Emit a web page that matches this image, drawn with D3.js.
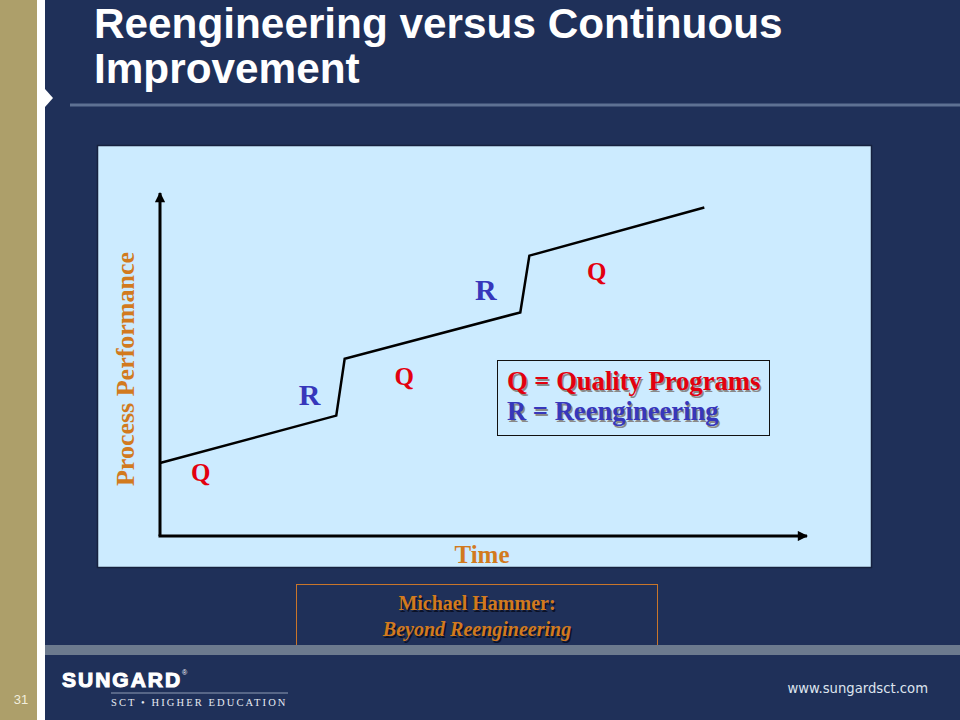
<!DOCTYPE html>
<html>
<head>
<meta charset="utf-8">
<script src="https://cdn.jsdelivr.net/npm/d3@7/dist/d3.min.js"></script>
<style>
  html, body { margin: 0; padding: 0; background: #1F3059; }
  svg { display: block; }
</style>
</head>
<body>
<div id="chart"></div>
<script>
// ---- Data ----
const titleLines = ["Reengineering versus Continuous", "Improvement"];
const timePoints = [0, 27.2, 28.5, 55.6, 57, 84];          // Time (relative)
const performance = [21.2, 35, 51.5, 65, 81.5, 95.5];      // Process Performance (relative)
const labelTexts = ["Q", "R", "Q", "R", "Q"];
const labelKinds = ["quality", "reengineering", "quality", "reengineering", "quality"];
const labelTime = [6.3, 23.1, 37.7, 50.3, 67.4];
const labelPerf = [16, 38.1, 43.9, 68.6, 74.4];
const legendLines = ["Q = Quality Programs", "R = Reengineering"];
const legendKinds = ["quality", "reengineering"];
const xAxisTitle = "Time";
const yAxisTitle = "Process Performance";
const sourceLines = ["Michael Hammer:", "Beyond Reengineering"];
const slideNumber = "31";
const footerUrl = "www.sungardsct.com";

// ---- Styles ----
const W = 960, H = 720;
const navy = "#1F3059";
const gold = "#AD9F6A";
const panelFill = "#CCEBFF";
const orange = "#D27A1E";
const kindColor = { quality: "#E3000F", reengineering: "#3737BB" };

const svg = d3.select("#chart").append("svg").attr("width", W).attr("height", H);

// background
svg.append("rect").attr("width", W).attr("height", H).attr("fill", navy);
svg.append("rect").attr("x", 0).attr("y", 0).attr("width", 37).attr("height", H).attr("fill", gold);
svg.append("rect").attr("x", 37).attr("y", 0).attr("width", 8).attr("height", H).attr("fill", "#FFFFFF");
svg.append("path").attr("d", "M45,89 L53,98 L45,107 Z").attr("fill", "#FFFFFF");

// title
const title = svg.append("text").attr("font-family", "Liberation Sans, Arial, sans-serif")
  .attr("font-weight", "bold").attr("font-size", 42.3).attr("fill", "#FFFFFF");
titleLines.forEach((t, i) => title.append("tspan").attr("x", 94).attr("y", 38 + i * 45).text(t));
svg.append("rect").attr("x", 70).attr("y", 103.5).attr("width", W - 70).attr("height", 3).attr("fill", "#5E7193");

// chart panel
svg.append("rect").attr("x", 97.5).attr("y", 145.5).attr("width", 774).attr("height", 422)
  .attr("fill", panelFill).attr("stroke", "#16213F").attr("stroke-width", 1.5);

// scales
const x = d3.scaleLinear().domain([0, 100]).range([160, 808]);
const y = d3.scaleLinear().domain([0, 100]).range([536, 192]);

const defs = svg.append("defs");
defs.append("marker").attr("id", "arrow").attr("viewBox", "0 0 10 10").attr("refX", 9).attr("refY", 5)
  .attr("markerWidth", 4).attr("markerHeight", 3.4).attr("orient", "auto")
  .attr("markerUnits", "strokeWidth")
  .append("path").attr("d", "M0,0 L10,5 L0,10 Z").attr("fill", "#000");

// axes (drawn through the scales)
svg.append("line").attr("x1", x(0)).attr("y1", y(0)).attr("x2", x(0)).attr("y2", y(100) + 1)
  .attr("stroke", "#000").attr("stroke-width", 3).attr("marker-end", "url(#arrow)");
svg.append("line").attr("x1", x(0) - 1.5).attr("y1", y(0)).attr("x2", x(100) - 1).attr("y2", y(0))
  .attr("stroke", "#000").attr("stroke-width", 3).attr("marker-end", "url(#arrow)");

// performance line
const lineData = timePoints.map((t, i) => ({ t, p: performance[i] }));
svg.append("path").datum(lineData)
  .attr("d", d3.line().x(d => x(d.t)).y(d => y(d.p)))
  .attr("fill", "none").attr("stroke", "#000").attr("stroke-width", 2.5).attr("stroke-linejoin", "miter");

// Q / R labels
labelTexts.forEach((t, i) => {
  svg.append("text").attr("x", x(labelTime[i])).attr("y", y(labelPerf[i]))
    .attr("text-anchor", "middle").attr("font-family", "Liberation Serif, Times New Roman, serif")
    .attr("font-weight", "bold").attr("font-size", labelKinds[i] === "reengineering" ? 30 : 25)
    .attr("fill", kindColor[labelKinds[i]]).text(t);
});

// axis titles
svg.append("text").attr("x", 482).attr("y", 563).attr("text-anchor", "middle")
  .attr("font-family", "Liberation Serif, Times New Roman, serif").attr("font-weight", "bold")
  .attr("font-size", 25).attr("fill", orange).text(xAxisTitle);
svg.append("text").attr("transform", "translate(134,369) rotate(-90)").attr("text-anchor", "middle")
  .attr("font-family", "Liberation Serif, Times New Roman, serif").attr("font-weight", "bold")
  .attr("font-size", 26).attr("fill", orange).text(yAxisTitle);

// legend
svg.append("rect").attr("x", 497.5).attr("y", 360.5).attr("width", 272).attr("height", 75)
  .attr("fill", panelFill).attr("stroke", "#111").attr("stroke-width", 1);
legendLines.forEach((t, i) => {
  const g = svg.append("g");
  [["#8a8a8a", 1.5], [kindColor[legendKinds[i]], 0]].forEach(([c, off]) => {
    g.append("text").attr("x", 507 + off).attr("y", 390 + i * 30 + off)
      .attr("font-family", "Liberation Serif, Times New Roman, serif").attr("font-weight", "bold")
      .attr("font-size", 26.6).attr("fill", c).text(t);
  });
});

// source box
svg.append("rect").attr("x", 296.5).attr("y", 584.5).attr("width", 361).attr("height", 61)
  .attr("fill", "none").attr("stroke", "#C8752A").attr("stroke-width", 1);
sourceLines.forEach((t, i) => {
  [["#0b1228", 1.5], [orange, 0]].forEach(([c, off]) => {
    svg.append("text").attr("x", 477 + off).attr("y", 610 + i * 26 + off).attr("text-anchor", "middle")
      .attr("font-family", "Liberation Serif, Times New Roman, serif").attr("font-weight", "bold")
      .attr("font-style", i === 1 ? "italic" : "normal")
      .attr("font-size", 20).attr("fill", c).text(t);
  });
});

// footer
svg.append("rect").attr("x", 45).attr("y", 645).attr("width", W - 45).attr("height", 10).attr("fill", "#6C7A8E");
svg.append("text").attr("x", 21).attr("y", 704).attr("text-anchor", "middle")
  .attr("font-family", "Liberation Sans, Arial, sans-serif").attr("font-size", 13)
  .attr("fill", "#F2EEDD").text(slideNumber);
svg.append("text").attr("x", 62).attr("y", 687)
  .attr("font-family", "Liberation Sans, Arial, sans-serif").attr("font-weight", "bold")
  .attr("font-size", 21).attr("letter-spacing", 2).attr("fill", "#FFFFFF")
  .attr("stroke", "#FFFFFF").attr("stroke-width", 1.1).text("SUNGARD");
svg.append("text").attr("x", 182).attr("y", 675)
  .attr("font-family", "Liberation Sans, Arial, sans-serif").attr("font-size", 7).attr("fill", "#FFFFFF").text("®");
svg.append("rect").attr("x", 111).attr("y", 692.5).attr("width", 177).attr("height", 1).attr("fill", "#8F9BB5");
svg.append("text").attr("x", 111).attr("y", 706)
  .attr("font-family", "Liberation Serif, Times New Roman, serif").attr("font-size", 10.5)
  .attr("letter-spacing", 2.1).attr("fill", "#E6EAF2").text("SCT • HIGHER EDUCATION");
svg.append("text").attr("x", 928).attr("y", 693).attr("text-anchor", "end")
  .attr("font-family", "DejaVu Sans, Verdana, sans-serif").attr("font-size", 13.2)
  .attr("fill", "#DDE4EE").text(footerUrl);
</script>
</body>
</html>
